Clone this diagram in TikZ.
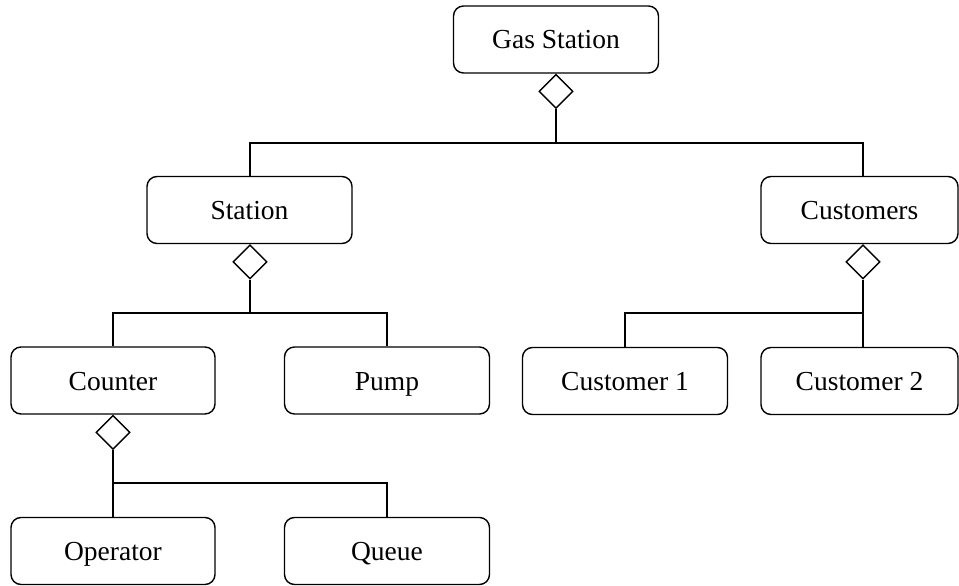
\documentclass[tikz,border=0pt]{standalone}
\usepackage{fontspec}
\setmainfont{Liberation Serif}
\usetikzlibrary{shapes.geometric}
\begin{document}
\begin{tikzpicture}[x=1pt,y=-1pt,
  box/.style={draw,line width=1.4pt,rounded corners=10pt,minimum height=67pt,minimum width=205pt,inner sep=0pt,text height=21pt,text depth=2pt,font=\fontsize{27.5}{31}\selectfont},
  agg/.style={draw,line width=1.4pt,diamond,minimum width=34pt,minimum height=34pt,inner sep=0pt,anchor=north,fill=white},
  conn/.style={line width=1.4pt}]
\useasboundingbox (0,0) rectangle (959,586);
\node[box] (gas) at (556,39.5) {Gas Station};
\node[box] (station) at (249.5,210) {Station};
\node[box,minimum width=197pt] (cust) at (859.5,210) {Customers};
\node[box,minimum width=204pt] (counter) at (113,380.5) {Counter};
\node[box] (pump) at (387,380.5) {Pump};
\node[box] (c1) at (625,381) {Customer 1};
\node[box,minimum width=197pt] (c2) at (859.5,381) {Customer 2};
\node[box,minimum width=204pt] (oper) at (113,551) {Operator};
\node[box] (queue) at (387,551) {Queue};
\node[agg] (dg) at (gas.south) {};
\node[agg] (ds) at ([xshift=0.5pt]station.south) {};
\node[agg] (dc) at ([xshift=3.5pt]cust.south) {};
\node[agg] (dk) at (counter.south) {};
\coordinate (hg) at (556,143);
\coordinate (hs) at (250,313);
\coordinate (hc) at (863,313);
\coordinate (hk) at (113,483);
\draw[conn] (dg.south) -- (hg);
\draw[conn] (hg) -| (station.north -| ds.south);
\draw[conn] (hg) -| (cust.north -| dc.south);
\draw[conn] (ds.south) -- (hs);
\draw[conn] (hs) -| (counter.north);
\draw[conn] (hs) -| (pump.north);
\draw[conn] (dc.south) -- (c2.north -| dc.south);
\draw[conn] (hc) -| (c1.north);
\draw[conn] (dk.south) -- (oper.north);
\draw[conn] (hk) -| (queue.north);
\end{tikzpicture}
\end{document}
